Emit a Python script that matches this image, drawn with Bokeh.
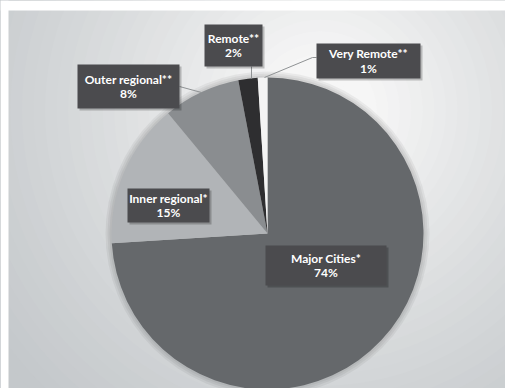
import numpy as np
from bokeh.plotting import figure
from bokeh.models import Range1d
from bokeh.core.properties import value
from bokeh.embed import file_html
from bokeh.resources import INLINE

# ---- data ----
categories = ["Major Cities*", "Inner regional*", "Outer regional**", "Remote**", "Very Remote**"]
percents = [74, 15, 8, 2, 1]
pct_labels = ["74%", "15%", "8%", "2%", "1%"]
slice_colors = ["#65686b", "#b1b4b7", "#8a8d90", "#2e2e30", "#f4f4f4"]

W, H = 505, 388


def Y(py):
    # page pixel y -> data y
    return H - py


p = figure(width=W, height=H, output_backend="svg", toolbar_location=None,
           x_range=Range1d(0, W), y_range=Range1d(0, H), min_border=0,
           background_fill_color="#c6cacd", border_fill_color="white")
p.axis.visible = False
p.grid.visible = False
p.outline_line_color = None

# background radial gradient (decorative)
gcx, gcy = 320, 110
c_out = np.array([0xc4, 0xc8, 0xcb])
c_in = np.array([0xf6, 0xf6, 0xf6])
radii = np.linspace(460, 10, 40)
gcols = []
for r in radii:
    t = np.clip(1 - (r - 60) / 360, 0, 1) ** 1.3
    c = (c_out + (c_in - c_out) * t).astype(int)
    gcols.append("#%02x%02x%02x" % tuple(c))
p.circle(x=[gcx] * len(radii), y=[Y(gcy)] * len(radii), radius=radii,
         fill_color=gcols, line_color=None)
# white page margins at top and left
p.quad(left=[0], right=[W], top=[Y(0)], bottom=[Y(10)], fill_color="white", line_color=None)
p.quad(left=[0], right=[8], top=[Y(0)], bottom=[Y(H)], fill_color="white", line_color=None)

# pie
cx, cy, R = 267, 233, 156
for k, a in enumerate([0.05, 0.05, 0.05]):
    p.circle(x=[cx], y=[Y(cy)], radius=R + 6 - 2 * k, fill_color="black", fill_alpha=a, line_color=None)

vals = np.array(percents, dtype=float)
cum = np.concatenate([[0], np.cumsum(vals)]) / vals.sum()
start = np.pi / 2 - cum[:-1] * 2 * np.pi
end = np.pi / 2 - cum[1:] * 2 * np.pi
p.wedge(x=cx, y=Y(cy), radius=R, start_angle=start, end_angle=end, direction="clock",
        fill_color=slice_colors, line_color=None)

# leader lines
lc = "#8f9294"
p.line(x=[179, 201], y=[Y(86), Y(92)], line_color=lc, line_width=1)
p.line(x=[251, 251], y=[Y(66), Y(78)], line_color=lc, line_width=1)
p.line(x=[316, 312, 264], y=[Y(57), Y(57), Y(77)], line_color=lc, line_width=1)

# label boxes (left, right, top, bottom in page px) for each category
boxes = {
    "Major Cities*": (265, 386, 245, 285),
    "Inner regional*": (127, 209, 188, 222),
    "Outer regional**": (77, 179, 64, 108),
    "Remote**": (204, 262, 24, 66),
    "Very Remote**": (316, 420, 43, 78),
}
for name, pct in zip(categories, pct_labels):
    l, r, t, b = boxes[name]
    p.quad(left=[l + 2], right=[r + 2], top=[Y(t + 2)], bottom=[Y(b + 2)],
           fill_color="black", fill_alpha=0.22, line_color=None)
    p.quad(left=[l], right=[r], top=[Y(t)], bottom=[Y(b)],
           fill_color="#4b4b4e", line_color=None)
    xm = (l + r) / 2
    ym = (t + b) / 2
    p.text(x=[xm, xm], y=[Y(ym - 7.5), Y(ym + 7)], text=[name, pct],
           text_font=value("Lato"), text_font_style="bold", text_font_size="12px",
           text_color="white", text_align="center", text_baseline="middle")

open("out.html", "w").write(file_html(p, INLINE))
